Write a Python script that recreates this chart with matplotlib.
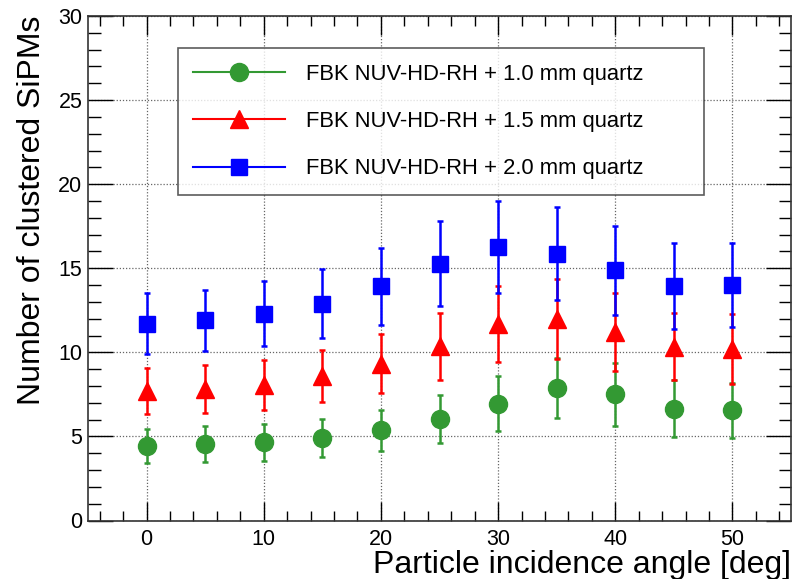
import matplotlib
matplotlib.use("Agg")
import matplotlib.pyplot as plt
from matplotlib.ticker import MultipleLocator
from matplotlib.lines import Line2D

plt.rcParams['font.family'] = ['Liberation Sans', 'DejaVu Sans']

angles = [0, 5, 10, 15, 20, 25, 30, 35, 40, 45, 50]

y_10mm = [4.42, 4.52, 4.64, 4.92, 5.36, 6.03, 6.94, 7.89, 7.50, 6.65, 6.55]
e_10mm = [1.03, 1.07, 1.09, 1.14, 1.24, 1.44, 1.63, 1.80, 1.87, 1.69, 1.63]

y_15mm = [7.70, 7.80, 8.07, 8.58, 9.33, 10.35, 11.67, 12.00, 11.21, 10.34, 10.22]
e_15mm = [1.39, 1.42, 1.49, 1.54, 1.75, 2.00, 2.26, 2.37, 2.32, 2.00, 2.08]

y_20mm = [11.70, 11.90, 12.30, 12.90, 13.93, 15.28, 16.27, 15.87, 14.88, 13.95, 14.03]
e_20mm = [1.80, 1.80, 1.95, 2.05, 2.30, 2.55, 2.75, 2.75, 2.65, 2.55, 2.50]

labels = ["FBK NUV-HD-RH + 1.0 mm quartz",
          "FBK NUV-HD-RH + 1.5 mm quartz",
          "FBK NUV-HD-RH + 2.0 mm quartz"]
colors = ["#339933", "#ff0000", "#0000ff"]
markers = ["o", "^", "s"]
msizes = [13, 13, 12]

xlabel = "Particle incidence angle [deg]"
ylabel = "Number of clustered SiPMs"

fig = plt.figure(figsize=(7.94, 5.79), dpi=100)
ax = fig.add_axes([88/794, 1-520.5/579, (791-88)/794, (520.5-16)/579])

series = [(y_10mm, e_10mm), (y_15mm, e_15mm), (y_20mm, e_20mm)]
handles = []
for (ys, es), c, m, ms, lab in zip(series, colors, markers, msizes, labels):
    ax.errorbar(angles, ys, yerr=es, fmt=m, color=c, ms=ms, mec=c, mfc=c,
                elinewidth=1.8, capsize=2, capthick=1.8, zorder=3)
    handles.append(Line2D([], [], color=c, marker=m, ms=ms, lw=1.5, label=lab))

ax.set_xlim(-5, 55)
ax.set_ylim(0, 30)
ax.xaxis.set_major_locator(MultipleLocator(10))
ax.xaxis.set_minor_locator(MultipleLocator(2))
ax.yaxis.set_major_locator(MultipleLocator(5))
ax.yaxis.set_minor_locator(MultipleLocator(1))
ax.tick_params(which='both', direction='in', top=True, right=True,
               labelsize=15.5, colors='black', width=1.0)
ax.tick_params(axis='x', which='major', length=14, pad=6)
ax.tick_params(axis='x', which='minor', length=7)
ax.tick_params(axis='y', which='major', length=18, pad=4)
ax.tick_params(axis='y', which='minor', length=9)
for sp in ax.spines.values():
    sp.set_linewidth(1.2)
    sp.set_color('#333333')
ax.grid(True, which='major', linestyle=(0, (1, 1.5)), color='#666666', linewidth=0.9)
ax.set_axisbelow(True)

ax.set_xlabel(xlabel, fontsize=23, loc='right', labelpad=0)
ax.set_ylabel(ylabel, fontsize=23, loc='top', labelpad=8)

x0 = (177.5 - 88) / 703
w = (704 - 177.5) / 703
y1 = 1 - (48 - 16) / 504.5
leg = ax.legend(handles=handles, loc='upper left',
                bbox_to_anchor=(x0, y1 - 0.5, w, 0.5), mode='expand',
                fontsize=15.8, frameon=True, fancybox=False, edgecolor='#333333',
                handlelength=4.2, handletextpad=0.95, labelspacing=1.2,
                borderpad=0.72, borderaxespad=0, numpoints=1)
leg.get_frame().set_linewidth(1.2)

fig.savefig("out.png", dpi=100)
